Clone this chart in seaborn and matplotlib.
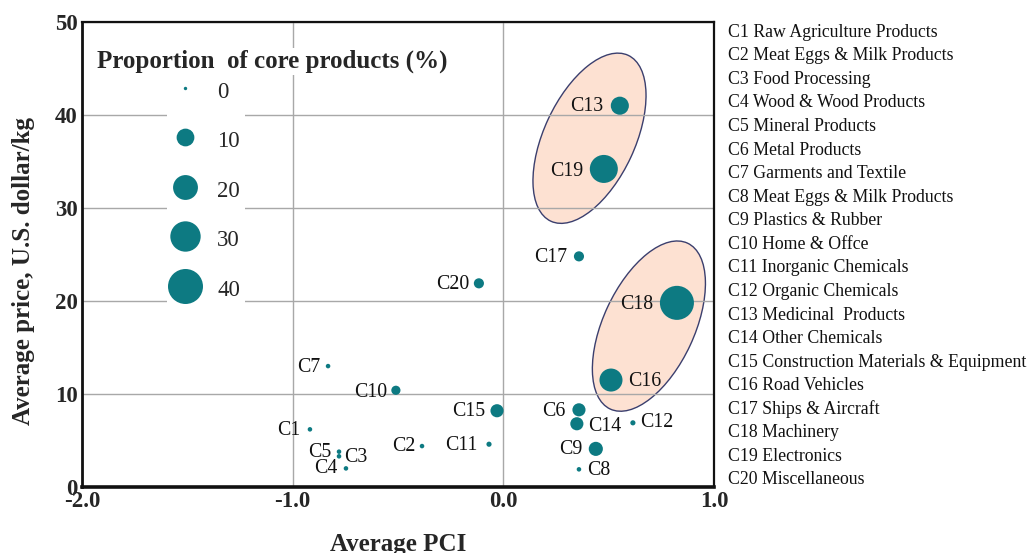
import numpy as np
import pandas as pd
import matplotlib
matplotlib.use("Agg")
import matplotlib.pyplot as plt
import seaborn as sns
from matplotlib.patches import Ellipse, Rectangle
from matplotlib.transforms import ScaledTranslation
from matplotlib.lines import Line2D

# ---------------- data ----------------
codes = ["C1", "C2", "C3", "C4", "C5", "C6", "C7", "C8", "C9", "C10",
         "C11", "C12", "C13", "C14", "C15", "C16", "C17", "C18", "C19", "C20"]
names = ["Raw Agriculture Products", "Meat Eggs & Milk Products", "Food Processing",
         "Wood & Wood Products", "Mineral Products", "Metal Products",
         "Garments and Textile", "Meat Eggs & Milk Products", "Plastics & Rubber",
         "Home & Offce", "Inorganic Chemicals", "Organic Chemicals",
         "Medicinal  Products", "Other Chemicals", "Construction Materials & Equipment",
         "Road Vehicles", "Ships & Aircraft", "Machinery", "Electronics", "Miscellaneous"]
avg_pci = [-0.918, -0.386, -0.780, -0.747, -0.780, 0.359, -0.832, 0.359, 0.439, -0.510,
           -0.068, 0.615, 0.553, 0.349, -0.030, 0.511, 0.359, 0.824, 0.477, -0.116]
avg_price = [6.2, 4.4, 3.3, 2.0, 3.8, 8.3, 13.0, 1.9, 4.1, 10.4,
             4.6, 6.9, 41.0, 6.8, 8.2, 11.5, 24.8, 19.8, 34.2, 21.9]
core_share = [0.3, 0.3, 0.3, 0.3, 0.3, 5.3, 0.3, 0.3, 6.2, 2.4,
              0.5, 0.5, 10.4, 5.3, 5.3, 17.1, 3.0, 37.8, 25.5, 3.0]
legend_values = [0, 10, 20, 30, 40]
x_ticks = [-2.0, -1.0, 0.0, 1.0]
y_ticks = [0, 10, 20, 30, 40, 50]
# clusters highlighted by ellipses (centre in data units)
cluster_centers_pci = [0.409, 0.691]
cluster_centers_price = [37.5, 17.3]

# ---------------- style ----------------
TEAL = "#0d7a82"
SIZE_RANGE = (6.0, 635.0)
label_style = {  # dx, dy (points), ha
    "C1": (-7, -0.5, "right"), "C2": (-5, -0.5, "right"), "C3": (4, -1.2, "left"),
    "C4": (-6.5, 0, "right"), "C5": (-5.8, -0.5, "right"), "C6": (-10, -1.2, "right"),
    "C7": (-5.8, -0.7, "right"), "C8": (5.8, -0.7, "left"), "C9": (-10, -0.7, "right"),
    "C10": (-6.5, -1.4, "right"), "C11": (-8, -0.7, "right"), "C12": (5, 0, "left"),
    "C13": (-12, -0.7, "right"), "C14": (8, -2.2, "left"), "C15": (-8.6, -0.7, "right"),
    "C16": (12, -1.4, "left"), "C17": (-8.6, -0.7, "right"), "C18": (-17, -1.4, "right"),
    "C19": (-15, -2, "right"), "C20": (-6.5, -0.7, "right"),
}

sns.set_style("white")
plt.rcParams["font.family"] = ["Liberation Serif", "DejaVu Serif"]
plt.rcParams["axes.unicode_minus"] = False

W, H = 1032, 553
fig = plt.figure(figsize=(W / 100, H / 100), dpi=100)
ax = fig.add_axes([82 / W, 1 - 487 / H, 632 / W, 465 / H])

df = pd.DataFrame({"code": codes, "pci": avg_pci, "price": avg_price, "core": core_share})

sns.scatterplot(data=df, x="pci", y="price", size="core", sizes=SIZE_RANGE,
                size_norm=(0, 40), color=TEAL, edgecolor="none", linewidth=0,
                legend=False, ax=ax, zorder=3)

ax.set_xlim(-2.0, 1.0)
ax.set_ylim(0, 50)
ax.set_xticks(x_ticks)
ax.set_xticklabels([f"{v:.1f}" for v in x_ticks])
ax.set_yticks(y_ticks)
ax.set_yticklabels([str(v) for v in y_ticks])
ax.tick_params(length=0, pad=3, labelsize=16.5)
for lbl in ax.get_xticklabels() + ax.get_yticklabels():
    lbl.set_fontweight("bold")

ax.grid(True, color="#a8a8a8", lw=1.0)
ax.set_axisbelow(True)
for side, lw in {"left": 2.0, "bottom": 2.6, "top": 1.6, "right": 1.6}.items():
    ax.spines[side].set_visible(True)
    ax.spines[side].set_color("#111111")
    ax.spines[side].set_linewidth(lw)

# highlight ellipses (size in inches, tilted in screen space)
for cx, cy in zip(cluster_centers_pci, cluster_centers_price):
    e = Ellipse((0, 0), 1.83, 0.91, angle=65,
                transform=fig.dpi_scale_trans + ScaledTranslation(cx, cy, ax.transData),
                facecolor="#fde1d2", edgecolor="#3b3f6e", lw=1.0, zorder=0.3)
    ax.add_artist(e)

# point labels
for c, x, y in zip(codes, avg_pci, avg_price):
    dx, dy, ha = label_style[c]
    ax.annotate(c, (x, y), xytext=(dx, dy), textcoords="offset points",
                ha=ha, va="center", fontsize=14.3, color="#111111", zorder=4)

# legend for bubble size
ax.add_patch(Rectangle((0.134, 0.38), 0.124, 0.45, transform=ax.transAxes,
                       facecolor="white", edgecolor="none", zorder=0.6))
ax.text(0.0237, 0.915, "Proportion  of core products (%)", transform=ax.transAxes,
        fontsize=18, fontweight="bold", ha="left", va="center", zorder=5,
        bbox=dict(facecolor="white", edgecolor="none", pad=1))
smin, smax = SIZE_RANGE
handles = [Line2D([], [], marker="o", linestyle="none", color=TEAL, markeredgewidth=0,
                  markersize=np.sqrt(smin + (smax - smin) * v / 40.0)) for v in legend_values]
leg = ax.legend(handles, [str(v) for v in legend_values], loc="upper left",
                bbox_to_anchor=(0.1266, 0.879), frameon=False, fontsize=16.5,
                handlelength=2.0, handleheight=1.2, labelspacing=1.09,
                borderpad=0, borderaxespad=0, handletextpad=0.4)

ax.set_xlabel("Average PCI", fontsize=18, fontweight="bold")
ax.xaxis.set_label_coords(0.5, -0.100)
ax.set_ylabel("Average price, U.S. dollar/kg", fontsize=18, fontweight="bold")
ax.yaxis.set_label_coords(-0.074, 0.465)

# category list on the right
for i, (c, n) in enumerate(zip(codes, names)):
    fig.text(728 / W, 1 - (32.3 + i * 23.56) / H, f"{c} {n}", fontsize=12.8,
             ha="left", va="center", color="#111111")

fig.savefig("out.png", dpi=100)
